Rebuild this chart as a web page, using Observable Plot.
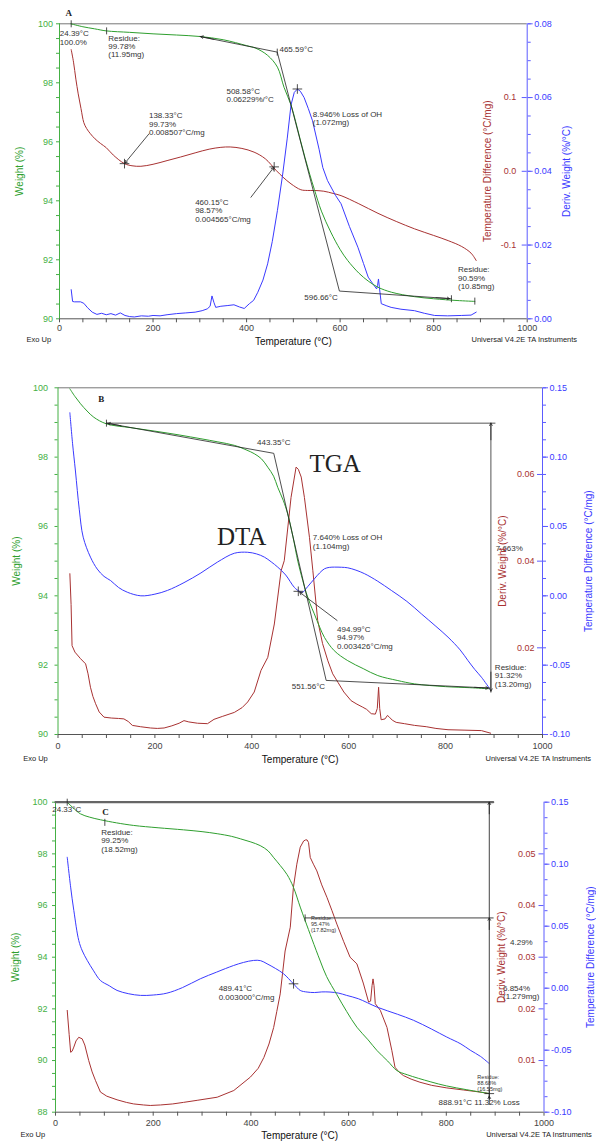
<!DOCTYPE html>
<html><head><meta charset="utf-8">
<script src="https://cdn.jsdelivr.net/npm/d3@7"></script>
<script src="https://cdn.jsdelivr.net/npm/@observablehq/plot@0.6"></script>
<style>
body{margin:0;background:#fff;}
#wrap{width:596px;}
#wrap svg{display:block;}
</style></head><body><div id="wrap"></div>
<script>
// ---------------- DATA ----------------
// Panel A
const A_TGA_T = [24.4, 50, 75, 100, 150, 200, 250, 300, 350, 400, 420, 445, 466, 480, 495, 505, 515, 525, 535, 545, 560, 580, 600, 616, 640, 660, 681, 710, 759, 800, 850, 888];
const A_TGA_W = [100.0, 99.9, 99.83, 99.76, 99.71, 99.66, 99.62, 99.57, 99.46, 99.26, 99.17, 98.93, 98.53, 97.85, 97.25, 96.68, 96.06, 95.46, 94.9, 94.38, 93.65, 92.94, 92.35, 91.98, 91.55, 91.28, 91.07, 90.9, 90.75, 90.68, 90.62, 90.59];
const A_DTA_T = [25, 30, 35, 40, 46, 52, 58, 66, 76, 88, 100, 115, 139, 155, 174, 200, 230, 259, 290, 320, 345, 365, 390, 416, 440, 463, 478, 495, 516, 530, 545, 565, 585, 602, 640, 681, 720, 759, 800, 831, 860, 880, 891];
const A_DTA_V = [0.165, 0.148, 0.125, 0.105, 0.085, 0.066, 0.058, 0.051, 0.044, 0.0376, 0.032, 0.022, 0.0104, 0.0075, 0.0068, 0.0095, 0.0145, 0.0194, 0.025, 0.030, 0.0325, 0.033, 0.031, 0.026, 0.017, 0.0014, -0.008, -0.017, -0.025, -0.026, -0.026, -0.027, -0.030, -0.033, -0.044, -0.057, -0.068, -0.078, -0.087, -0.094, -0.102, -0.111, -0.121];
const A_DTG_T = [25, 28, 32, 45, 52, 60, 70, 80, 90, 100, 110, 120, 130, 140, 150, 160, 175, 190, 200, 215, 230, 250, 270, 290, 305, 316, 322, 326, 330, 334, 345, 360, 373, 385, 395, 406, 415, 424, 435, 445, 455, 466, 477, 487, 495, 502, 508.6, 515, 523, 532, 541, 555, 563, 573, 590, 602, 620, 638, 650, 660, 670, 678, 680, 682, 684, 688, 700, 709, 730, 759, 780, 802, 830, 859, 880, 891];
const A_DTG_V = [0.0079, 0.0047, 0.0046, 0.0046, 0.0042, 0.0030, 0.0018, 0.0012, 0.0015, 0.0011, 0.0014, 0.0010, 0.0016, 0.0009, 0.0006, 0.0005, 0.0008, 0.0007, 0.0009, 0.0008, 0.0011, 0.0014, 0.0016, 0.0018, 0.0022, 0.0027, 0.0034, 0.0062, 0.0045, 0.0031, 0.0034, 0.0036, 0.0038, 0.0032, 0.0028, 0.0041, 0.0050, 0.0072, 0.0105, 0.0149, 0.0210, 0.0294, 0.0390, 0.0490, 0.0580, 0.0614, 0.0623, 0.0617, 0.0600, 0.0570, 0.0537, 0.0460, 0.0410, 0.0375, 0.0335, 0.0312, 0.0250, 0.0194, 0.0150, 0.0113, 0.0095, 0.0081, 0.0090, 0.0108, 0.0085, 0.0041, 0.0035, 0.0031, 0.0026, 0.0022, 0.0015, 0.0009, 0.0008, 0.0009, 0.0010, 0.0018];

// Panel B
const B_TGA_T = [24.5, 35, 46.5, 60, 74, 100, 150, 200, 250, 295, 330, 364, 390, 405, 420, 433, 445, 453.5, 465, 474, 485, 495, 505, 512, 520, 529, 540, 550, 570, 598, 630, 660, 700, 736, 800, 850, 888];
const B_TGA_W = [99.97, 99.75, 99.54, 99.33, 99.15, 98.96, 98.85, 98.75, 98.64, 98.53, 98.44, 98.34, 98.2, 98.1, 97.95, 97.71, 97.45, 97.13, 96.75, 96.37, 95.7, 95.0, 94.45, 94.1, 93.78, 93.48, 93.1, 92.8, 92.42, 92.13, 91.9, 91.7, 91.56, 91.46, 91.38, 91.35, 91.32];
const B_DTA_T = [24.5, 30, 36, 44, 52, 67, 81, 95, 108.6, 125, 143, 171, 200, 226, 260, 295, 329, 364, 391.5, 410, 426, 440, 453.5, 470, 488, 498, 505, 515, 529, 540, 550, 560, 571, 585, 598, 615, 633, 660, 688, 720, 750, 780, 805, 830, 846, 860, 874, 891];
const B_DTA_V = [0.132, 0.110, 0.090, 0.062, 0.0423, 0.0279, 0.0193, 0.014, 0.011, 0.006, 0.0026, 0.000, 0.0012, 0.0039, 0.0095, 0.0165, 0.0243, 0.0307, 0.0314, 0.0302, 0.0279, 0.0245, 0.0207, 0.0150, 0.0060, 0.0033, 0.0026, 0.0065, 0.0122, 0.0165, 0.0195, 0.0205, 0.0207, 0.0206, 0.0202, 0.0185, 0.0159, 0.0105, 0.0039, -0.004, -0.013, -0.022, -0.0298, -0.039, -0.0466, -0.053, -0.0587, -0.067];
const B_DTG_T = [24.5, 27, 29, 35, 46.5, 57, 62, 67, 72, 77.6, 85, 95, 110, 125, 136, 145, 153.5, 170, 191, 205, 219, 235, 250, 260, 270, 288, 308.6, 322, 340, 364, 380, 391.5, 405, 419, 433, 446.5, 460.5, 467, 481, 491.4, 496, 502, 508.6, 519, 526, 536, 546, 557, 567, 578, 590, 605, 617, 629, 637, 646.6, 655, 659, 661.7, 664, 667, 675, 680, 684, 690, 698, 715, 736, 760, 780, 805, 840, 874, 893];
const B_DTG_V = [0.0371, 0.030, 0.0205, 0.019, 0.0175, 0.0163, 0.0140, 0.0109, 0.0088, 0.0071, 0.0052, 0.0040, 0.0038, 0.0037, 0.0036, 0.0030, 0.0021, 0.0018, 0.0015, 0.0014, 0.0015, 0.0020, 0.0026, 0.0032, 0.0029, 0.0026, 0.0025, 0.0035, 0.0042, 0.0051, 0.0062, 0.0075, 0.0098, 0.0148, 0.0178, 0.0255, 0.0378, 0.0401, 0.0547, 0.0617, 0.0612, 0.0594, 0.0547, 0.0455, 0.0378, 0.0263, 0.0210, 0.0170, 0.0140, 0.0120, 0.0098, 0.0078, 0.0070, 0.0063, 0.0058, 0.0048, 0.0047, 0.0060, 0.0109, 0.0060, 0.0034, 0.0036, 0.0044, 0.0040, 0.0033, 0.0028, 0.0025, 0.0021, 0.0018, 0.0014, 0.0011, 0.0010, 0.0009, 0.0003];

// Panel C
const C_TGA_T = [24, 35, 51, 70, 92, 125, 160, 210, 262, 300, 331, 360, 379, 400, 419, 435, 446, 460, 474, 487, 501, 511, 525, 542, 555, 576, 596, 617, 640, 658, 680, 699, 720, 767, 800, 842, 888.6];
const C_TGA_W = [100.0, 99.8, 99.55, 99.42, 99.32, 99.2, 99.1, 99.01, 98.93, 98.86, 98.78, 98.68, 98.58, 98.46, 98.32, 98.12, 97.87, 97.55, 97.2, 96.71, 95.94, 95.42, 94.7, 93.85, 93.25, 92.55, 91.9, 91.29, 90.8, 90.39, 89.98, 89.61, 89.45, 89.18, 89.02, 88.87, 88.72];
const C_DTG_T = [24, 28, 31, 34, 37.5, 42, 47.6, 54.6, 60, 68, 75, 82, 92, 105, 126, 145, 160, 180, 194, 215, 240, 262, 290, 331, 365, 399, 415, 426.6, 437, 446.6, 453, 460, 470, 480.6, 487, 494, 501, 508, 512, 515, 518, 521.5, 528, 535, 545, 555.6, 566, 576, 590, 603, 617, 630, 641, 645, 648, 650, 652, 654.6, 665, 678.6, 688.6, 695, 703, 712, 728, 746, 770, 801, 835, 869, 888];
const C_DTG_V = [0.0197, 0.015, 0.0116, 0.0118, 0.0126, 0.0138, 0.0145, 0.0142, 0.013, 0.010, 0.0078, 0.0061, 0.0039, 0.0031, 0.0024, 0.0019, 0.0016, 0.0014, 0.0013, 0.0014, 0.0016, 0.0019, 0.0023, 0.0029, 0.0042, 0.0068, 0.0085, 0.0106, 0.0132, 0.0164, 0.0195, 0.0229, 0.0312, 0.0358, 0.0435, 0.0480, 0.0513, 0.0525, 0.0527, 0.0527, 0.0522, 0.0493, 0.0480, 0.0467, 0.0440, 0.0416, 0.0390, 0.0364, 0.0330, 0.0300, 0.0287, 0.0250, 0.0213, 0.0215, 0.0245, 0.0258, 0.0245, 0.0210, 0.0197, 0.0164, 0.0119, 0.0087, 0.0078, 0.0071, 0.0064, 0.0058, 0.0052, 0.0047, 0.0043, 0.0039, 0.0036];
const C_DTA_T = [24, 31, 37.5, 47.6, 55, 65, 78, 92, 110, 126, 150, 174, 200, 228, 260, 296.5, 330, 364.6, 385, 405.5, 420, 433, 450, 467, 487, 501, 515, 530, 545, 562, 580, 596, 620, 658, 700, 733, 770, 801, 830, 849, 870, 888];
const C_DTA_V = [0.1056, 0.0815, 0.0627, 0.0385, 0.030, 0.0224, 0.014, 0.0062, 0.002, -0.0018, -0.0045, -0.0058, -0.0055, -0.004, 0.0005, 0.0076, 0.013, 0.0183, 0.0208, 0.0224, 0.0222, 0.0197, 0.016, 0.0116, 0.0036, -0.0018, -0.0031, -0.0035, -0.003, -0.0031, -0.004, -0.0058, -0.0085, -0.0152, -0.021, -0.0259, -0.033, -0.0394, -0.045, -0.05, -0.055, -0.0608];

// Tick labels
const X_TICKS = d3.range(0, 1001, 50);
const A_RED_TICKS = [-0.1, 0, 0.1];
const A_BLUE_TICKS = [0, 0.02, 0.04, 0.06, 0.08];
const B_RED_TICKS = [0.02, 0.04, 0.06];
const B_BLUE_TICKS = [-0.10, -0.05, 0, 0.05, 0.10, 0.15];
const C_RED_TICKS = [0.01, 0.02, 0.03, 0.04, 0.05];
const C_BLUE_TICKS = [-0.10, -0.05, 0, 0.05, 0.10, 0.15];

// Annotations (anchored at temperature / weight)
const A_NOTES = [
  {t: 0.6, w: 99.53, s: "24.39°C\n100.0%"},
  {t: 104.4, w: 99.24, s: "Residue:\n99.78%\n(11.95mg)"},
  {t: 470.3, w: 99.12, s: "465.59°C"},
  {t: 357, w: 97.57, s: "508.58°C\n0.06229%/°C"},
  {t: 541.5, w: 96.8, s: "8.946% Loss of OH\n(1.072mg)"},
  {t: 191.3, w: 96.61, s: "138.33°C\n99.73%\n0.008507°C/mg"},
  {t: 290, w: 93.67, s: "460.15°C\n98.57%\n0.004565°C/mg"},
  {t: 852, w: 91.38, s: "Residue:\n90.59%\n(10.85mg)"}
];
const A_NOTES_END = [{t: 595, w: 90.73, s: "596.66°C"}];
const A_TANGENT = [[300, 99.57], [465.6, 99.04], [598.5, 90.94], [838, 90.68]];
const A_TICKMARKS = [{t: 25, w: 100}, {t: 100.7, w: 99.76}, {t: 465.6, w: 99.04}, {t: 838, w: 90.68}, {t: 888, w: 90.6}];
const A_PLUS = [{t: 508.6, w: 97.79}, {t: 139, w: 95.26}, {t: 459, w: 95.15}];
const A_ARROWS = [
  {t1: 191.3, w1: 96.27, t2: 140, w2: 95.28},
  {t1: 409.3, w1: 94.12, t2: 458, w2: 95.13},
  {t1: 330, w1: 99.475, t2: 302, w2: 99.565},
  {t1: 805, w1: 90.715, t2: 834, w2: 90.685}
];

const B_NOTES = [
  {t: 410.7, w: 98.43, s: "443.35°C"},
  {t: 526, w: 95.56, s: "7.640% Loss of OH\n(1.104mg)"},
  {t: 903.5, w: 95.37, s: "7.663%"},
  {t: 576, w: 92.79, s: "494.99°C\n94.97%\n0.003426°C/mg"},
  {t: 901.7, w: 91.7, s: "Residue:\n91.32%\n(13.20mg)"}
];
const B_NOTES_END = [{t: 551.4, w: 91.38, s: "551.56°C"}];
const B_BIG = [{t: 519, w: 97.79, s: "TGA"}, {t: 328, w: 95.69, s: "DTA"}];
const B_TANGENT = [[100, 98.98], [445.3, 98.11], [553.5, 91.56], [891, 91.34]];
const B_RESIDUE_H = [[100, 98.98], [902, 98.98]];
const B_RESIDUE_V = [[893.5, 98.98], [893.5, 91.22]];
const B_TICKMARKS = [{t: 100, w: 98.98}];
const B_PLUS = [{t: 496, w: 94.13}];
const B_ARROWS = [
  {t1: 576, w1: 93.29, t2: 499, w2: 94.1},
  {t1: 130, w1: 98.905, t2: 103, w2: 98.975},
  {t1: 893.5, w1: 98.5, t2: 893.5, w2: 98.98},
  {t1: 893.5, w1: 91.8, t2: 893.5, w2: 91.25},
  {t1: 860, w1: 91.36, t2: 888, w2: 91.34}
];

const C_NOTES = [
  {t: -6.7, w: 99.71, s: "24.33°C"},
  {t: 93.5, w: 98.52, s: "Residue:\n99.25%\n(18.52mg)"},
  {t: 334, w: 92.62, s: "489.41°C\n0.003000°C/mg"},
  {t: 930.5, w: 94.56, s: "4.29%"},
  {t: 916, w: 92.63, s: "6.854%\n(1.279mg)"},
  {t: 784, w: 88.39, s: "888.91°C 11.32% Loss"}
];
const C_NOTES_SMALL = [
  {t: 523, w: 95.29, s: "Residue:\n95.47%\n(17.82mg)"},
  {t: 863.6, w: 89.14, s: "Residue:\n88.68%\n(16.55mg)"}
];
const C_TOPLINE = [[0, 100], [896, 100]];
const C_RESIDUE_V = [[888, 100], [888, 88.5]];
const C_RESIDUE_H = [[511, 95.52], [896, 95.52]];
const C_TICKMARKS = [{t: 24, w: 100}, {t: 101, w: 99.22}, {t: 511, w: 95.52}];
const C_PLUS = [{t: 487.3, w: 92.97}, {t: 888, w: 88.72}];
const C_ARROWS = [
  {t1: 888, w1: 99.55, t2: 888, w2: 100},
  {t1: 888, w1: 95.07, t2: 888, w2: 95.52},
  {t1: 888, w1: 88.3, t2: 888, w2: 88.62}
];

// ---------------- STYLE ----------------
const GREEN = "#2f9f2f", GREEN_AX = "#44b044", RED = "#a83232", BLUE = "#3a3aff", BLUE_AX = "#5c5cff", INK = "#222", NOTE = "#333";
const SANS = "'Liberation Sans', Arial, sans-serif";
const SERIF = "'Liberation Serif', 'Times New Roman', serif";
const vbar = {draw(ctx, size) { const r = Math.sqrt(size / Math.PI); ctx.moveTo(0, -r); ctx.lineTo(0, r); }};

const zip = (T, V) => T.map((t, i) => ({t, v: V[i]}));
const fmt = (v, dec) => { const r = Math.round(v * 1e6) / 1e6; return (r === 0 ? 0 : r).toFixed(dec); };
const txt = (s, o) => Plot.text([s], {text: d => d, fontFamily: SANS, textAnchor: "middle", lineAnchor: "middle", ...o});

function panel(c) {
  const [w0, w1] = c.wDomain;
  const mapR = v => w0 + (v - c.red.lo) * (w1 - w0) / (c.red.hi - c.red.lo);
  const invR = w => c.red.lo + (w - w0) * (c.red.hi - c.red.lo) / (w1 - w0);
  const mapB = v => w0 + (v - c.blue.lo) * (w1 - w0) / (c.blue.hi - c.blue.lo);
  const invB = w => c.blue.lo + (w - w0) * (c.blue.hi - c.blue.lo) / (w1 - w0);
  const blueMinor = d3.range(c.blue.lo, c.blue.hi + 1e-9, c.blue.minor);
  const marks = [
    // frame lines
    c.topLine ? Plot.ruleY([w1], {stroke: "#777"}) : null,
    Plot.ruleY([w0], {stroke: "#555"}),
    Plot.ruleX([0], {stroke: GREEN_AX}),
    Plot.ruleX([1000], {stroke: BLUE_AX}),
    // x axis
    Plot.axisX(X_TICKS, {tickSize: 4, tickPadding: c.xPad, tickFormat: d => d % 200 === 0 ? String(d) : "", stroke: "#555", fill: "#444", label: null, fontSize: 9, fontFamily: SANS}),
    // left weight axis
    Plot.axisY(d3.range(w0, w1 + 0.01, 0.5), {anchor: "left", tickSize: 3, tickPadding: c.lPad, tickFormat: d => Math.abs(d % 2) < 1e-9 ? String(d) : "", stroke: GREEN_AX, fill: GREEN_AX, label: null, fontSize: 9, fontFamily: SANS}),
    // right axes
    Plot.axisY(blueMinor.map(mapB), {anchor: "right", tickSize: 3, tickFormat: () => "", stroke: BLUE_AX, label: null}),
    Plot.axisY(c.blue.ticks.map(mapB), {anchor: "right", tickSize: 5, tickPadding: 2, tickFormat: w => fmt(invB(w), c.blue.dec), stroke: BLUE_AX, fill: BLUE, label: null, fontSize: 9, fontFamily: SANS}),
    Plot.axisY(c.red.ticks.map(mapR), {anchor: "left", frameAnchor: "right", tickSize: 5, tickPadding: c.rPad, tickFormat: w => fmt(invR(w), c.red.dec), stroke: BLUE_AX, fill: RED, label: null, fontSize: 9, fontFamily: SANS}),
    // curves
    Plot.line(zip(c.red.T, c.red.V), {x: "t", y: d => mapR(d.v), stroke: RED, strokeWidth: 1, curve: c.red.curve}),
    Plot.line(zip(c.blue.T, c.blue.V), {x: "t", y: d => mapB(d.v), stroke: BLUE, strokeWidth: 1, curve: c.blue.curve}),
    Plot.line(zip(c.tgaT, c.tgaW), {x: "t", y: "v", stroke: GREEN, strokeWidth: 1, curve: "catmull-rom"}),
    // annotation lines
    ...c.lines.map(L => Plot.line(L.pts, {x: d => d[0], y: d => d[1], stroke: L.color || INK, strokeWidth: L.width || 0.8})),
    Plot.dot(c.tickmarks, {x: "t", y: "w", symbol: vbar, r: 3.5, stroke: INK, strokeWidth: 0.8, fill: "none"}),
    Plot.dot(c.plus, {x: "t", y: "w", symbol: "plus", r: 3.2, stroke: INK, strokeWidth: 0.8, fill: "none"}),
    Plot.arrow(c.arrows, {x1: "t1", y1: "w1", x2: "t2", y2: "w2", stroke: INK, strokeWidth: 0.8, headLength: 5}),
    Plot.text(c.notes, {x: "t", y: "w", text: "s", textAnchor: "start", lineAnchor: "middle", lineHeight: 1.05, fontSize: 8, fill: NOTE, fontFamily: SANS}),
    Plot.text(c.notesEnd || [], {x: "t", y: "w", text: "s", textAnchor: "end", lineAnchor: "middle", fontSize: 8, fill: NOTE, fontFamily: SANS}),
    Plot.text(c.notesSmall || [], {x: "t", y: "w", text: "s", textAnchor: "start", lineAnchor: "middle", lineHeight: 1.1, fontSize: 5.5, fill: NOTE, fontFamily: SANS}),
    Plot.text(c.big || [], {x: "t", y: "w", text: "s", textAnchor: "start", lineAnchor: "middle", fontSize: 25, fill: INK, fontFamily: SERIF}),
    Plot.text([c.letter], {x: d => d.t, y: d => d.w, text: d => d.s, fontSize: 9, fontWeight: "bold", fill: INK, fontFamily: SERIF}),
    // titles
    txt("Weight (%)", {frameAnchor: "left", rotate: -90, dx: c.tLeft, fill: GREEN, fontSize: 10}),
    txt(c.redTitle, {frameAnchor: "right", rotate: -90, dx: c.tRed, fill: RED, fontSize: 10}),
    txt(c.blueTitle, {frameAnchor: "right", rotate: -90, dx: c.tBlue, fill: BLUE, fontSize: 10}),
    txt("Temperature (°C)", {frameAnchor: "bottom", dy: c.dyTemp, fill: "#111", fontSize: 10}),
    txt("Exo Up", {frameAnchor: "bottom-left", textAnchor: "start", dx: c.exoDx, dy: c.dyExo, fill: "#222", fontSize: 7.5}),
    txt("Universal V4.2E TA Instruments", {frameAnchor: "bottom-right", textAnchor: "start", dx: c.uniDx, dy: c.dyExo, fill: "#222", fontSize: 7.5})
  ].filter(Boolean);
  return Plot.plot({
    width: 596, height: c.height,
    marginTop: c.mt, marginBottom: c.mb, marginLeft: c.ml, marginRight: c.mr,
    x: {domain: [0, 1000]},
    y: {domain: c.wDomain},
    style: {fontFamily: SANS, fontSize: "9px", background: "#fff", overflow: "visible"},
    marks
  });
}

const wrap = document.getElementById("wrap");

wrap.appendChild(panel({
  height: 350, mt: 23.3, mb: 31.7, ml: 59, mr: 69.3, wDomain: [90, 100], topLine: true,
  xPad: 2, lPad: 3.5, rPad: 6,
  tgaT: A_TGA_T, tgaW: A_TGA_W,
  red: {T: A_DTA_T, V: A_DTA_V, lo: -0.2, hi: 0.2, ticks: A_RED_TICKS, dec: 1, curve: "catmull-rom"},
  blue: {T: A_DTG_T, V: A_DTG_V, lo: 0, hi: 0.08, ticks: A_BLUE_TICKS, minor: 0.005, dec: 2, curve: "linear"},
  lines: [{pts: A_TANGENT}],
  tickmarks: A_TICKMARKS, plus: A_PLUS, arrows: A_ARROWS,
  notes: A_NOTES, notesEnd: A_NOTES_END,
  letter: {t: 20, w: 100.36, s: "A"},
  redTitle: "Temperature Difference (°C/mg)", blueTitle: "Deriv. Weight (%/°C)",
  tLeft: -39.5, tRed: -39.7, tBlue: 39.3,
  dyTemp: 22.7, dyExo: 20.7, exoDx: -33, uniDx: -55.7
}));

wrap.appendChild(panel({
  height: 415, mt: 37.3, mb: 31, ml: 57.5, mr: 54, wDomain: [90, 100], topLine: true,
  xPad: 4, lPad: 7, rPad: 3,
  tgaT: B_TGA_T, tgaW: B_TGA_W,
  red: {T: B_DTG_T, V: B_DTG_V, lo: 0, hi: 0.08, ticks: B_RED_TICKS, dec: 2, curve: "linear"},
  blue: {T: B_DTA_T, V: B_DTA_V, lo: -0.1, hi: 0.15, ticks: B_BLUE_TICKS, minor: 0.0125, dec: 2, curve: "catmull-rom"},
  lines: [{pts: B_RESIDUE_H, color: "#555", width: 1}, {pts: B_RESIDUE_V, color: "#555", width: 1}, {pts: B_TANGENT}],
  tickmarks: B_TICKMARKS, plus: B_PLUS, arrows: B_ARROWS,
  notes: B_NOTES, notesEnd: B_NOTES_END, big: B_BIG,
  letter: {t: 89.4, w: 99.68, s: "B"},
  redTitle: "Deriv. Weight (%/°C)", blueTitle: "Temperature Difference (°C/mg)",
  tLeft: -41, tRed: -40, tBlue: 46,
  dyTemp: 25, dyExo: 24, exoDx: -34.8, uniDx: -57
}));

wrap.appendChild(panel({
  height: 379, mt: 36.7, mb: 32.3, ml: 55, mr: 52.5, wDomain: [88, 100], topLine: false,
  xPad: 3, lPad: 5, rPad: 3.5,
  tgaT: C_TGA_T, tgaW: C_TGA_W,
  red: {T: C_DTG_T, V: C_DTG_V, lo: 0, hi: 0.06, ticks: C_RED_TICKS, dec: 2, curve: "linear"},
  blue: {T: C_DTA_T, V: C_DTA_V, lo: -0.1, hi: 0.15, ticks: C_BLUE_TICKS, minor: 0.0125, dec: 2, curve: "catmull-rom"},
  lines: [{pts: C_TOPLINE, color: "#666", width: 2.2}, {pts: C_RESIDUE_V, color: "#444", width: 1}, {pts: C_RESIDUE_H, color: "#444", width: 1}],
  tickmarks: C_TICKMARKS, plus: C_PLUS, arrows: C_ARROWS,
  notes: C_NOTES, notesSmall: C_NOTES_SMALL,
  letter: {t: 102.2, w: 99.6, s: "C"},
  redTitle: "Deriv. Weight (%/°C)", blueTitle: "Temperature Difference (°C/mg)",
  tLeft: -40, tRed: -41.8, tBlue: 46.5,
  dyTemp: 24, dyExo: 22.3, exoDx: -35, uniDx: -57.8
}));
</script></body></html>
